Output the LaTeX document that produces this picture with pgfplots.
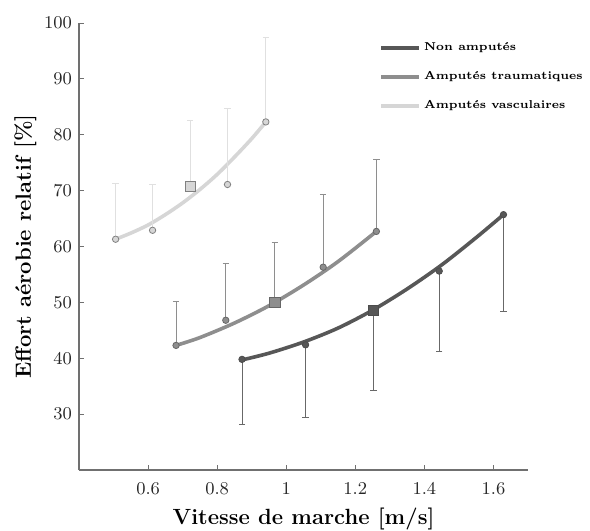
\documentclass[border=0pt]{standalone}
\usepackage{pgfplots}
\pgfplotsset{compat=1.18}
\definecolor{cdark}{HTML}{575757}
\definecolor{cmid}{HTML}{8E8E8E}
\definecolor{clight}{HTML}{D6D6D6}
\definecolor{axisgray}{HTML}{707070}
\begin{document}
\begin{tikzpicture}
\begin{axis}[
  scale only axis, width=224.5pt, height=223.5pt,
  xmin=0.4, xmax=1.7, ymin=20, ymax=100,
  axis lines*=left,
  axis line style={axisgray, line width=0.6pt},
  tick align=inside, major tick length=2.5pt,
  tick style={axisgray, line width=0.5pt},
  xtick={0.6,0.8,1,1.2,1.4,1.6},
  ytick={30,40,50,60,70,80,90,100},
  tick label style={font=\fontsize{9.5}{11}\selectfont, text=black!85},
  xticklabel style={yshift=-3pt},
  xlabel={Vitesse de marche [m/s]},
  ylabel={Effort aérobie relatif [\%]},
  label style={font=\fontsize{11}{13}\selectfont\bfseries},
  xlabel style={yshift=0pt},
  ylabel style={yshift=-3pt},
  legend style={draw=none, fill=none, at={(0.655,0.975)}, anchor=north west,
    font=\fontsize{5.7}{7.5}\selectfont\bfseries, row sep=5pt, legend cell align=left,
    nodes={inner xsep=1.5pt}},
  legend image code/.code={\draw[#1] (0pt,0pt) -- (19pt,0pt);},
  clip=false,
]
% fitted curves
\addplot[cdark, line width=1.8pt, smooth] coordinates {
(0.872,39.7) (0.95,40.9) (1.05,42.9) (1.15,45.4) (1.25,48.6) (1.35,52.4) (1.45,56.7) (1.55,61.6) (1.629,65.7)};
\addlegendentry{Non amputés}
\addplot[cmid, line width=1.8pt, smooth] coordinates {
(0.681,42.3) (0.75,43.7) (0.85,46.3) (0.95,49.4) (1.05,53.1) (1.15,57.3) (1.261,62.7)};
\addlegendentry{Amputés traumatiques}
\addplot[clight, line width=1.8pt, smooth] coordinates {
(0.506,61.3) (0.55,62.4) (0.6,63.85) (0.65,65.7) (0.7,67.8) (0.75,70.2) (0.8,72.9) (0.85,76.0) (0.9,79.3) (0.941,82.3)};
\addlegendentry{Amputés vasculaires}
% Non amputes points
\addplot[forget plot, only marks, mark=*, mark size=1.6pt, mark options={fill=cdark, draw=black!70, line width=0.4pt},
  error bars/.cd, y dir=minus, y explicit,
  error bar style={cdark!90, line width=0.5pt}, error mark options={rotate=90, mark size=1.6pt, cdark!90}]
  coordinates {(0.872,39.8) +- (0,11.6) (1.056,42.4) +- (0,12.9) (1.443,55.6) +- (0,14.3) (1.629,65.7) +- (0,17.4)};
\addplot[forget plot, only marks, mark=square*, mark size=2.6pt, mark options={fill=cdark, draw=black!70, line width=0.4pt},
  error bars/.cd, y dir=minus, y explicit,
  error bar style={cdark!90, line width=0.5pt}, error mark options={rotate=90, mark size=1.6pt, cdark!90}]
  coordinates {(1.253,48.6) +- (0,14.4)};
% Traumatiques points
\addplot[forget plot, only marks, mark=*, mark size=1.6pt, mark options={fill=cmid, draw=black!60, line width=0.4pt},
  error bars/.cd, y dir=plus, y explicit,
  error bar style={cmid, line width=0.5pt}, error mark options={rotate=90, mark size=1.6pt, cmid}]
  coordinates {(0.681,42.3) +- (0,7.9) (0.825,46.8) +- (0,10.1) (1.107,56.3) +- (0,13.0) (1.261,62.7) +- (0,12.9)};
\addplot[forget plot, only marks, mark=square*, mark size=2.6pt, mark options={fill=cmid, draw=black!60, line width=0.4pt},
  error bars/.cd, y dir=plus, y explicit,
  error bar style={cmid, line width=0.5pt}, error mark options={rotate=90, mark size=1.6pt, cmid}]
  coordinates {(0.967,50.0) +- (0,10.8)};
% Vasculaires points
\addplot[forget plot, only marks, mark=*, mark size=1.6pt, mark options={fill=clight, draw=black!50, line width=0.4pt},
  error bars/.cd, y dir=plus, y explicit,
  error bar style={black!12, line width=0.5pt}, error mark options={rotate=90, mark size=1.6pt, black!12}]
  coordinates {(0.506,61.3) +- (0,10.0) (0.613,62.9) +- (0,8.3) (0.830,71.1) +- (0,13.7) (0.941,82.3) +- (0,15.2)};
\addplot[forget plot, only marks, mark=square*, mark size=2.6pt, mark options={fill=clight, draw=black!50, line width=0.4pt},
  error bars/.cd, y dir=plus, y explicit,
  error bar style={black!12, line width=0.5pt}, error mark options={rotate=90, mark size=1.6pt, black!12}]
  coordinates {(0.722,70.8) +- (0,11.7)};
\end{axis}
\pgfresetboundingbox
\path[use as bounding box] (current axis.south west) ++(-39.5pt,-30.5pt) rectangle ++(295pt,265.5pt);
\end{tikzpicture}
\end{document}
